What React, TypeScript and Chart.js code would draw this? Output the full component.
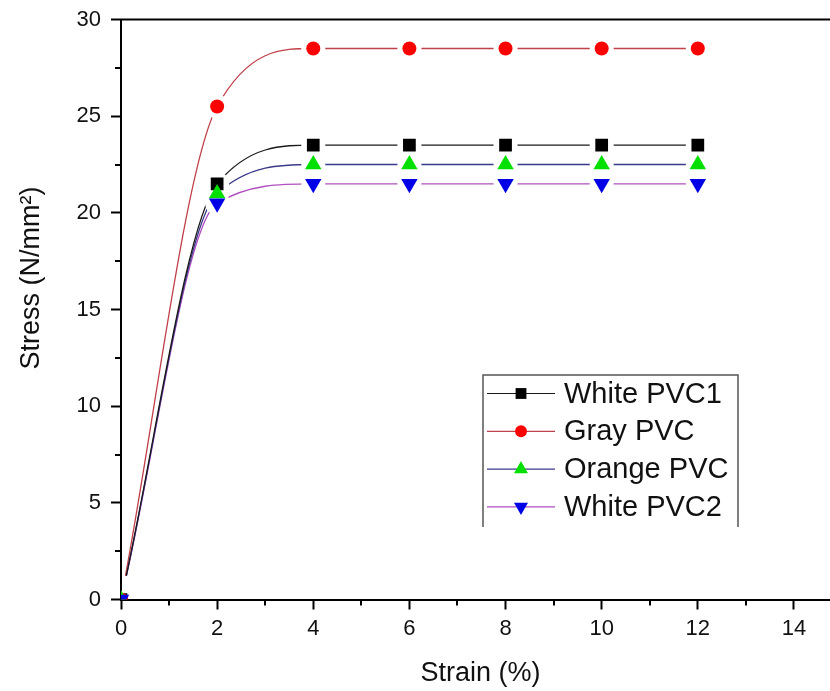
import React, { useEffect, useRef } from "react";
import { Chart, registerables } from "chart.js";

Chart.register(...registerables);

// ---- data ----
const strain = [0, 2, 4, 6, 8, 10, 12];
const whitePVC1 = [0, 21.5, 23.5, 23.5, 23.5, 23.5, 23.5];
const grayPVC = [0, 25.5, 28.5, 28.5, 28.5, 28.5, 28.5];
const orangePVC = [0, 21, 22.5, 22.5, 22.5, 22.5, 22.5];
const whitePVC2 = [0, 20.5, 21.5, 21.5, 21.5, 21.5, 21.5];

const seriesNames = ["White PVC1", "Gray PVC", "Orange PVC", "White PVC2"];
const xMajorTicks = [0, 2, 4, 6, 8, 10, 12, 14];
const xMinorTicks = [1, 3, 5, 7, 9, 11, 13];
const yMajorTicks = [0, 5, 10, 15, 20, 25, 30];
const yMinorTicks = [2.5, 7.5, 12.5, 17.5, 22.5, 27.5];

const xTitle = "Strain (%)";
const yTitle = "Stress (N/mm\u00B2)";

// ---- styles ----
const lineColors = ["#1a1a1a", "#c0404a", "#3a3a8a", "#b050c0"];
const markerColors = ["#000000", "#ff0000", "#00e000", "#0000e6"];
const markerStyles = ["rect", "circle", "triangle", "triangle"];
const markerRotations = [0, 0, 0, 180];
const markerRadii = [9, 7, 9.5, 9.5];
const FONT = "'Liberation Sans', Arial, sans-serif";

const seriesValues = [whitePVC1, grayPVC, orangePVC, whitePVC2];

function drawMarker(ctx: CanvasRenderingContext2D, style: string, rot: number, r: number, x: number, y: number, color: string) {
  ctx.save();
  ctx.fillStyle = color;
  ctx.beginPath();
  if (style === "rect") {
    const s = r / Math.SQRT2;
    ctx.rect(x - s, y - s, 2 * s, 2 * s);
  } else if (style === "circle") {
    ctx.arc(x, y, r, 0, Math.PI * 2);
  } else {
    let a = (rot * Math.PI) / 180;
    ctx.moveTo(x + Math.sin(a) * r, y - Math.cos(a) * r);
    a += (2 * Math.PI) / 3;
    ctx.lineTo(x + Math.sin(a) * r, y - Math.cos(a) * r);
    a += (2 * Math.PI) / 3;
    ctx.lineTo(x + Math.sin(a) * r, y - Math.cos(a) * r);
    ctx.closePath();
  }
  ctx.fill();
  ctx.restore();
}

const noPad = (s: any) => {
  s.paddingLeft = 0;
  s.paddingRight = 0;
  s.paddingTop = 0;
  s.paddingBottom = 0;
};

const decorPlugin = {
  id: "decor",
  afterDraw(chart: any) {
    const { ctx, chartArea } = chart;
    const xs = chart.scales.x;
    const ys = chart.scales.y;
    ctx.save();
    // top frame line
    ctx.strokeStyle = "#000";
    ctx.lineWidth = 2;
    ctx.beginPath();
    ctx.moveTo(chartArea.left - 1, chartArea.top);
    ctx.lineTo(chartArea.right, chartArea.top);
    ctx.stroke();
    // minor ticks
    ctx.lineWidth = 2;
    ctx.beginPath();
    xMinorTicks.forEach((v) => {
      const px = Math.round(xs.getPixelForValue(v));
      ctx.moveTo(px, chartArea.bottom);
      ctx.lineTo(px, chartArea.bottom + 6);
    });
    yMinorTicks.forEach((v) => {
      const py = Math.round(ys.getPixelForValue(v));
      ctx.moveTo(chartArea.left, py);
      ctx.lineTo(chartArea.left - 6, py);
    });
    ctx.stroke();

    // axis titles
    ctx.fillStyle = "#111";
    ctx.font = `27px ${FONT}`;
    ctx.textAlign = "center";
    ctx.textBaseline = "alphabetic";
    ctx.fillText(xTitle, (chartArea.left + chartArea.right) / 2 + 5, 681);
    ctx.save();
    ctx.translate(39, 278);
    ctx.rotate(-Math.PI / 2);
    ctx.fillText(yTitle, 0, 0);
    ctx.restore();

    // legend
    const L = 483, T = 375, R = 738, B = 527;
    ctx.strokeStyle = "#555";
    ctx.lineWidth = 1.5;
    ctx.beginPath();
    ctx.moveTo(L, B);
    ctx.lineTo(L, T);
    ctx.lineTo(R, T);
    ctx.lineTo(R, B);
    ctx.stroke();
    ctx.font = `29px ${FONT}`;
    ctx.textAlign = "left";
    ctx.textBaseline = "middle";
    seriesNames.forEach((name, i) => {
      const y = 393.5 + i * 37.8;
      ctx.strokeStyle = lineColors[i];
      ctx.lineWidth = 1.2;
      ctx.beginPath();
      ctx.moveTo(487, y);
      ctx.lineTo(555, y);
      ctx.stroke();
      drawMarker(ctx, markerStyles[i], markerRotations[i], markerRadii[i] * 0.85, 521, y, markerColors[i]);
      ctx.fillStyle = "#111";
      ctx.fillText(name, 564, y + 1);
    });
    ctx.restore();
  },
};

export default function App() {
  const ref = useRef<HTMLCanvasElement | null>(null);

  useEffect(() => {
    if (!ref.current) return;
    const pts = (ys: number[]) => strain.map((x, i) => ({ x, y: ys[i] }));

    const lineSets = seriesValues.map((ys, i) => ({
      label: seriesNames[i] + " line",
      data: pts(ys),
      borderColor: lineColors[i],
      backgroundColor: lineColors[i],
      borderWidth: 1.3,
      cubicInterpolationMode: "monotone" as const,
      pointRadius: 0,
      pointHoverRadius: 0,
      order: 30,
    }));

    const gapSets = seriesValues.map((ys, i) => ({
      label: seriesNames[i] + " gap",
      data: pts(ys),
      showLine: false,
      pointRadius: strain.map((_, j) => (j === 0 ? 24 : 12)),
      pointHoverRadius: 0,
      pointBackgroundColor: "#ffffff",
      pointBorderColor: "#ffffff",
      pointBorderWidth: 0,
      clip: { left: -1, bottom: -1, top: 0, right: 0 },
      order: 20,
    }));

    const markerSets = seriesValues.map((ys, i) => ({
      label: seriesNames[i],
      data: pts(ys),
      showLine: false,
      pointStyle: markerStyles[i],
      rotation: markerRotations[i],
      pointRadius: markerRadii[i],
      pointHoverRadius: markerRadii[i],
      pointBackgroundColor: markerColors[i],
      pointBorderColor: markerColors[i],
      pointBorderWidth: 0,
      order: 4 - i,
    }));

    const chart = new Chart(ref.current, {
      type: "line",
      data: { datasets: [...lineSets, ...gapSets, ...markerSets] as any },
      options: {
        animation: false,
        responsive: true,
        maintainAspectRatio: false,
        events: [],
        layout: { autoPadding: false, padding: { left: 0, right: 0, top: 19.5, bottom: 0 } },
        plugins: { legend: { display: false }, tooltip: { enabled: false } },
        scales: {
          x: {
            type: "linear",
            min: 0,
            max: 14.75,
            afterFit: (s: any) => {
              s.height = 91.5;
              noPad(s);
            },
            afterBuildTicks: (s: any) => {
              s.ticks = xMajorTicks.map((v) => ({ value: v }));
            },
            ticks: {
              color: "#111",
              font: { family: FONT, size: 22 },
              padding: 6,
              maxRotation: 0,
              autoSkip: false,
              includeBounds: false,
              callback: (v: any) => String(v),
            },
            grid: {
              display: true,
              drawOnChartArea: false,
              drawTicks: true,
              tickLength: 10,
              tickWidth: 2,
              tickColor: "#000",
            },
            border: { display: true, color: "#000", width: 2 },
          },
          y: {
            type: "linear",
            min: 0,
            max: 30,
            afterFit: (s: any) => {
              s.width = 121;
              noPad(s);
            },
            afterBuildTicks: (s: any) => {
              s.ticks = yMajorTicks.map((v) => ({ value: v }));
            },
            ticks: {
              color: "#111",
              font: { family: FONT, size: 22 },
              padding: 10,
              autoSkip: false,
              includeBounds: false,
              callback: (v: any) => String(v),
            },
            grid: {
              display: true,
              drawOnChartArea: false,
              drawTicks: true,
              tickLength: 10,
              tickWidth: 2,
              tickColor: "#000",
            },
            border: { display: true, color: "#000", width: 2 },
          },
        },
      },
      plugins: [decorPlugin],
    });
    return () => chart.destroy();
  }, []);

  return (
    <div style={{ position: "fixed", left: 0, top: 0, width: 830, height: 691, background: "#fff" }}>
      <canvas ref={ref} />
    </div>
  );
}
